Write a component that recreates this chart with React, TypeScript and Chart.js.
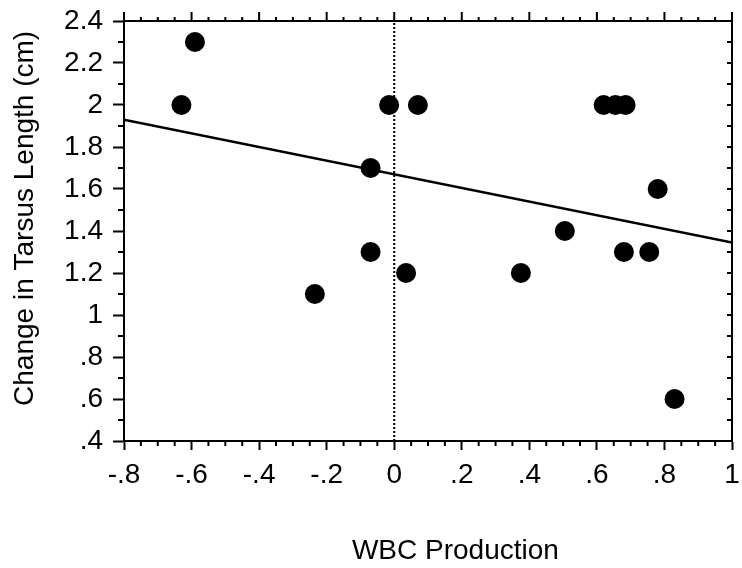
import React, { useEffect, useRef } from 'react';
import { Chart, registerables } from 'chart.js';

Chart.register(...registerables);

// ---- data ----
const xValues = [-0.63, -0.59, -0.235, -0.07, -0.07, -0.015, 0.035, 0.07, 0.375, 0.505, 0.62, 0.655, 0.685, 0.68, 0.755, 0.78, 0.83];
const yValues = [2.0, 2.3, 1.1, 1.7, 1.3, 2.0, 1.2, 2.0, 1.2, 1.4, 2.0, 2.0, 2.0, 1.3, 1.3, 1.6, 0.6];
const fitX = [-0.8, 1.0];
const fitY = [1.93, 1.345];
const refLineX = [0, 0];
const refLineY = [0.4, 2.4];

const X_MIN = -0.8;
const X_MAX = 1.0;
const X_STEP = 0.2;
const X_MINOR = 0.05;
const Y_MIN = 0.4;
const Y_MAX = 2.4;
const Y_STEP = 0.2;
const Y_MINOR = 0.1;

const X_TITLE = 'WBC Production';
const Y_TITLE = 'Change in Tarsus Length (cm)';

const FONT = "'Liberation Sans', Arial, Helvetica, sans-serif";

const fmt = (v: number): string => {
  const r = Math.round(v * 10) / 10;
  if (r === 0) return '0';
  return String(r).replace(/^(-?)0\./, '$1.');
};

const framePlugin = {
  id: 'frameTicks',
  afterDraw(chart: any) {
    const { ctx, chartArea, scales } = chart;
    const { left, right, top, bottom } = chartArea;
    const x = scales.x;
    const y = scales.y;
    ctx.save();
    ctx.strokeStyle = '#000';
    ctx.lineWidth = 2;
    ctx.lineCap = 'butt';
    const seg = (x1: number, y1: number, x2: number, y2: number) => {
      ctx.beginPath();
      ctx.moveTo(x1, y1);
      ctx.lineTo(x2, y2);
      ctx.stroke();
    };
    // top & right spines
    ctx.beginPath();
    ctx.moveTo(left - 1, top);
    ctx.lineTo(right, top);
    ctx.lineTo(right, bottom + 1);
    ctx.stroke();
    // x ticks
    const nx = Math.round((X_MAX - X_MIN) / X_MINOR);
    const perMajorX = Math.round(X_STEP / X_MINOR);
    for (let i = 0; i <= nx; i++) {
      const v = X_MIN + i * X_MINOR;
      const px = x.getPixelForValue(v);
      const major = i % perMajorX === 0;
      if (!major) seg(px, bottom, px, bottom + 5);
      seg(px, top, px, top - (major ? 9 : 4));
    }
    // y ticks
    const ny = Math.round((Y_MAX - Y_MIN) / Y_MINOR);
    const perMajorY = Math.round(Y_STEP / Y_MINOR);
    for (let i = 0; i <= ny; i++) {
      const v = Y_MIN + i * Y_MINOR;
      const py = y.getPixelForValue(v);
      const major = i % perMajorY === 0;
      if (!major) seg(left, py, left - 6, py);
      seg(right, py, right - 5, py);
    }
    // axis titles
    ctx.fillStyle = '#000';
    ctx.font = `28px ${FONT}`;
    ctx.textAlign = 'center';
    ctx.textBaseline = 'alphabetic';
    ctx.fillText(X_TITLE, left + (right - left) * 0.545, chart.height - 9);
    ctx.translate(33, top + (bottom - top) * 0.47);
    ctx.rotate(-Math.PI / 2);
    ctx.fillText(Y_TITLE, 0, 0);
    ctx.restore();
  },
};

export default function App() {
  const canvasRef = useRef<HTMLCanvasElement | null>(null);

  useEffect(() => {
    const canvas = canvasRef.current;
    if (!canvas) return;
    const points = xValues.map((xv, i) => ({ x: xv, y: yValues[i] }));
    const fit = fitX.map((xv, i) => ({ x: xv, y: fitY[i] }));
    const ref = refLineX.map((xv, i) => ({ x: xv, y: refLineY[i] }));

    const chart = new Chart(canvas, {
      type: 'scatter',
      data: {
        datasets: [
          {
            type: 'line',
            data: ref,
            borderColor: '#000',
            borderWidth: 2,
            borderDash: [2, 2],
            pointRadius: 0,
            showLine: true,
            fill: false,
          } as any,
          {
            type: 'line',
            data: fit,
            borderColor: '#000',
            borderWidth: 2.5,
            pointRadius: 0,
            showLine: true,
            fill: false,
          } as any,
          {
            data: points,
            backgroundColor: '#000',
            borderColor: '#000',
            borderWidth: 0,
            pointRadius: 10,
            pointHoverRadius: 10,
          },
        ],
      },
      options: {
        animation: false,
        responsive: true,
        maintainAspectRatio: false,
        layout: { padding: { top: 21, right: 4, left: 0, bottom: 0 } },
        plugins: {
          legend: { display: false },
          tooltip: { enabled: false },
        },
        scales: {
          x: {
            type: 'linear',
            position: 'bottom',
            min: X_MIN,
            max: X_MAX,
            ticks: {
              stepSize: X_STEP,
              color: '#000',
              font: { family: FONT, size: 28 },
              padding: 8,
              maxRotation: 0,
              autoSkip: false,
              callback: (v: any) => fmt(Number(v)),
            },
            grid: {
              display: true,
              drawOnChartArea: false,
              drawTicks: true,
              tickLength: 9,
              tickWidth: 2,
              tickColor: '#000',
            },
            border: { display: true, color: '#000', width: 2 },
            title: { display: false },
            afterFit: (scale: any) => {
              scale.height = 127;
              scale.paddingLeft = 0;
              scale.paddingRight = 0;
            },
          },
          y: {
            type: 'linear',
            min: Y_MIN,
            max: Y_MAX,
            ticks: {
              stepSize: Y_STEP,
              color: '#000',
              font: { family: FONT, size: 28 },
              padding: 10,
              autoSkip: false,
              callback: (v: any) => fmt(Number(v)),
            },
            grid: {
              display: true,
              drawOnChartArea: false,
              drawTicks: true,
              tickLength: 11,
              tickWidth: 2,
              tickColor: '#000',
            },
            border: { display: true, color: '#000', width: 2 },
            title: { display: false },
            afterFit: (scale: any) => {
              scale.width = 124;
              scale.paddingTop = 0;
              scale.paddingBottom = 0;
            },
          },
        },
      },
      plugins: [framePlugin],
    } as any);

    return () => chart.destroy();
  }, []);

  return (
    <div style={{ position: 'absolute', left: 0, top: 0, width: 742, height: 568, background: '#fff' }}>
      <canvas ref={canvasRef} />
    </div>
  );
}
